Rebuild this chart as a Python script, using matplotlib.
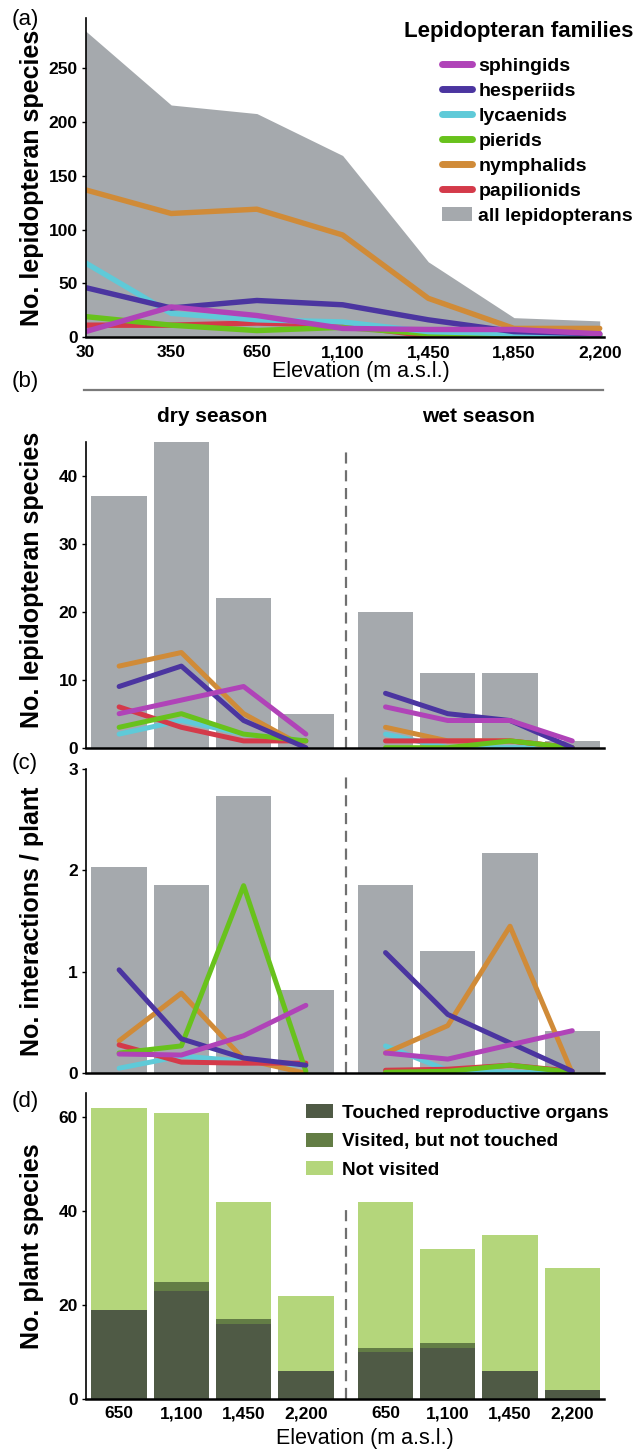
import numpy as np
import matplotlib
matplotlib.use("Agg")
import matplotlib.pyplot as plt
from matplotlib.lines import Line2D
from matplotlib.patches import Patch
from matplotlib.transforms import blended_transform_factory

plt.rcParams['font.family'] = ['Liberation Sans', 'DejaVu Sans']

# ---- data ----
families = ['sphingids', 'hesperiids', 'lycaenids', 'pierids', 'nymphalids', 'papilionids']
fam_colors = ['#B043B8', '#4B35A0', '#5FCAD8', '#68C21C', '#D08B38', '#D43A4A']
grey = '#A5A9AD'

# (a) whole gradient
elev_a = ['30', '350', '650', '1,100', '1,450', '1,850', '2,200']
a_all = [285, 216, 208, 169, 70, 18, 15]
a_sphingids = [5, 28, 20, 8, 7, 7, 3]
a_hesperiids = [46, 27, 34, 30, 16, 5, 3]
a_lycaenids = [69, 22, 16, 14, 5, 3, 1]
a_pierids = [19, 11, 6, 9, 3, 2, 1]
a_nymphalids = [137, 115, 119, 95, 36, 8, 8]
a_papilionids = [11, 11, 13, 11, 1, 2, 2]

# (b)-(d) four elevations, dry and wet season
elev_s = ['650', '1,100', '1,450', '2,200']

b_all_dry = [37, 45, 22, 5]
b_all_wet = [20, 11, 11, 1]
b_dry = {'sphingids': [5, 7, 9, 2], 'hesperiids': [9, 12, 4, 0], 'lycaenids': [2, 4, 2, 1],
         'pierids': [3, 5, 2, 1], 'nymphalids': [12, 14, 5, 0], 'papilionids': [6, 3, 1, 1]}
b_wet = {'sphingids': [6, 4, 4, 1], 'hesperiids': [8, 5, 4, 0], 'lycaenids': [2, 0, 0, 0],
         'pierids': [0, 0, 1, 0], 'nymphalids': [3, 1, 1, 0], 'papilionids': [1, 1, 1, 0]}

c_all_dry = [2.03, 1.86, 2.73, 0.82]
c_all_wet = [1.86, 1.21, 2.17, 0.42]
c_dry = {'sphingids': [0.19, 0.18, 0.37, 0.67], 'hesperiids': [1.02, 0.34, 0.15, 0.08],
         'lycaenids': [0.05, 0.17, 0.12, 0.08], 'pierids': [0.2, 0.27, 1.85, 0.02],
         'nymphalids': [0.32, 0.79, 0.14, 0.0], 'papilionids': [0.28, 0.11, 0.1, 0.1]}
c_wet = {'sphingids': [0.2, 0.14, 0.28, 0.42], 'hesperiids': [1.19, 0.58, 0.3, 0.02],
         'lycaenids': [0.27, 0.03, 0.01, 0.0], 'pierids': [0.01, 0.02, 0.08, 0.01],
         'nymphalids': [0.2, 0.47, 1.45, 0.0], 'papilionids': [0.03, 0.04, 0.08, 0.02]}

d_touched_dry = [19, 23, 16, 6]
d_visited_dry = [0, 2, 1, 0]
d_notvisited_dry = [43, 36, 25, 16]
d_touched_wet = [10, 11, 6, 2]
d_visited_wet = [1, 1, 0, 0]
d_notvisited_wet = [31, 20, 29, 26]
d_colors = ['#4F5A45', '#637D45', '#B4D67B']
d_labels = ['Touched reproductive organs', 'Visited, but not touched', 'Not visited']

# ---- layout ----
W, H = 635, 1449
fig = plt.figure(figsize=(W / 100, H / 100), dpi=100)
L, R = 85.5, 604


def add_ax(top, bottom):
    return fig.add_axes([L / W, 1 - bottom / H, (R - L) / W, (bottom - top) / H])


def style(ax):
    for s in ['top', 'right']:
        ax.spines[s].set_visible(False)
    ax.spines['left'].set_linewidth(1.2)
    ax.spines['bottom'].set_linewidth(1.8)
    ax.tick_params(axis='y', length=3, width=1, pad=2.5, labelsize=12.5)
    ax.tick_params(axis='x', length=0, pad=5, labelsize=12.5)
    for t in ax.get_xticklabels() + ax.get_yticklabels():
        t.set_fontweight('bold')
    ax.yaxis.set_label_coords(-0.080, 0.5)


xpos = np.r_[np.arange(4), np.arange(4) + 4.28]
sep_x = 3.64
bw = 0.89

# (a)
ax = add_ax(18, 337)
xa = np.arange(len(elev_a))
ax.fill_between(xa, 0, a_all, color=grey, lw=0)
a_series = [a_papilionids, a_pierids, a_lycaenids, a_hesperiids, a_nymphalids, a_sphingids]
a_order = ['papilionids', 'pierids', 'lycaenids', 'hesperiids', 'nymphalids', 'sphingids']
for name, vals in zip(a_order, a_series):
    ax.plot(xa, vals, color=fam_colors[families.index(name)], lw=3.9, solid_capstyle='round')
ax.set_xlim(0, 6.05)
ax.set_ylim(0, 297)
ax.set_yticks([0, 50, 100, 150, 200, 250])
ax.set_xticks(xa)
ax.set_xticklabels(elev_a)
ax.set_ylabel('No. lepidopteran species', fontsize=18, fontweight='bold')
ax.set_xlabel('Elevation (m a.s.l.)', fontsize=15.5)
style(ax)
ax.tick_params(axis='x', pad=6)
ax.xaxis.set_label_coords(0.531, -0.075)

handles = [Line2D([], [], color=c, lw=5, solid_capstyle='round') for c in fam_colors]
handles.append(Patch(color=grey, lw=0))
leg = ax.legend(handles, families + ['all lepidopterans'], title='Lepidopteran families',
                loc='upper right', bbox_to_anchor=(633 / W, 1 - 21 / H),
                bbox_transform=fig.transFigure, frameon=False, fontsize=14,
                title_fontproperties={'weight': 'bold', 'size': 16}, alignment='right',
                handlelength=1.5, handletextpad=0.35, labelspacing=0.38,
                borderpad=0, borderaxespad=0)
leg._legend_box.sep = 11
for t in leg.get_texts():
    t.set_fontweight('bold')

fig.add_artist(Line2D([84 / W, 603 / W], [1 - 390 / H, 1 - 390 / H], color='#7A7A7A', lw=1.6))


def season_panel(ax, all_dry, all_wet, dry, wet):
    ax.bar(xpos[:4], all_dry, width=bw, color=grey, lw=0)
    ax.bar(xpos[4:], all_wet, width=bw, color=grey, lw=0)
    for name in ['lycaenids', 'nymphalids', 'papilionids', 'pierids', 'hesperiids', 'sphingids']:
        col = fam_colors[families.index(name)]
        ax.plot(xpos[:4], dry[name], color=col, lw=3.6, solid_capstyle='round')
        ax.plot(xpos[4:], wet[name], color=col, lw=3.6, solid_capstyle='round')
    ax.set_xlim(-0.54, 7.79)
    ax.set_xticks([])


# (b)
ax = add_ax(441.7, 747.7)
season_panel(ax, b_all_dry, b_all_wet, b_dry, b_wet)
ax.set_ylim(0, 45)
ax.set_yticks([0, 10, 20, 30, 40])
ax.axvline(sep_x, 0, 44.2 / 45, color='#707070', lw=1.6, ls=(0, (5, 3)))
ax.set_ylabel('No. lepidopteran species', fontsize=18, fontweight='bold')
style(ax)
ax.yaxis.set_label_coords(-0.080, 0.55)
tr = blended_transform_factory(ax.transData, fig.transFigure)
ax.text(np.mean(xpos[:4]), 1 - 417 / H, 'dry season', transform=tr, ha='center', va='center',
        fontsize=15, fontweight='bold')
ax.text(np.mean(xpos[4:]), 1 - 417 / H, 'wet season', transform=tr, ha='center', va='center',
        fontsize=15, fontweight='bold')

# (c)
ax = add_ax(769, 1073.3)
season_panel(ax, c_all_dry, c_all_wet, c_dry, c_wet)
ax.set_ylim(0, 3)
ax.set_yticks([0, 1, 2, 3])
ax.axvline(sep_x, 0, 2.96 / 3, color='#707070', lw=1.6, ls=(0, (5, 3)))
ax.set_ylabel('No. interactions / plant', fontsize=18, fontweight='bold')
style(ax)

# (d)
ax = add_ax(1093, 1399.3)
for xs, tch, vis, nv in [(xpos[:4], d_touched_dry, d_visited_dry, d_notvisited_dry),
                         (xpos[4:], d_touched_wet, d_visited_wet, d_notvisited_wet)]:
    ax.bar(xs, tch, width=bw, color=d_colors[0], lw=0)
    ax.bar(xs, vis, width=bw, bottom=tch, color=d_colors[1], lw=0)
    ax.bar(xs, nv, width=bw, bottom=np.add(tch, vis), color=d_colors[2], lw=0)
ax.set_xlim(-0.54, 7.79)
ax.set_ylim(0, 65.2)
ax.set_yticks([0, 20, 40, 60])
ax.set_xticks(xpos)
ax.set_xticklabels(elev_s * 2)
ax.axvline(sep_x, 0, 40.3 / 65.2, color='#707070', lw=1.6, ls=(0, (5, 3)))
ax.set_ylabel('No. plant species', fontsize=18, fontweight='bold')
ax.set_xlabel('Elevation (m a.s.l.)', fontsize=15.5)
style(ax)
ax.xaxis.set_label_coords(0.539, -0.095)
dh = [Patch(color=c, lw=0) for c in d_colors]
leg = ax.legend(dh, d_labels, loc='upper left', bbox_to_anchor=(306 / W, 1 - 1104 / H),
                bbox_transform=fig.transFigure, frameon=False, fontsize=13.7,
                handlelength=1.4, handleheight=0.75, handletextpad=0.5, labelspacing=0.58,
                borderpad=0, borderaxespad=0)
for t in leg.get_texts():
    t.set_fontweight('bold')

# panel letters
for lab, y in [('(a)', 20), ('(b)', 381), ('(c)', 764), ('(d)', 1102)]:
    fig.text(12 / W, 1 - y / H, lab, fontsize=16, ha='left', va='center')

fig.savefig('out.png', dpi=100)
